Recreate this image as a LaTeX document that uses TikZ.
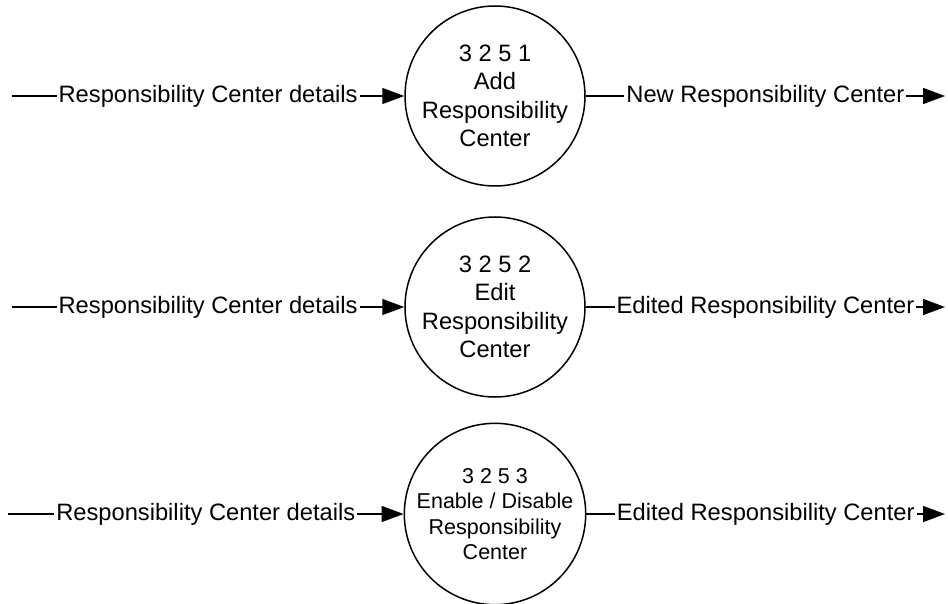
\documentclass[tikz,border=0pt]{standalone}
\usepackage{fontspec}
\setmainfont{Liberation Sans}
\usetikzlibrary{arrows.meta,positioning}

\begin{document}
\begin{tikzpicture}[x=1pt,y=-1pt,
    process/.style={circle, draw, line width=1.5pt, minimum size=180pt, inner sep=0pt, align=center, font=\fontsize{23.7}{28.5}\selectfont},
    flow/.style={line width=1.5pt, -{Triangle[length=22pt,width=16pt]}},
    lbl/.style={fill=white, inner sep=2pt, font=\fontsize{23.7}{28.5}\selectfont}]
    \useasboundingbox (0,0) rectangle (948,604);

    \node[process] (P1) at (495,96) {3 2 5 1\\Add\\Responsibility\\Center};
    \node[process] (P2) at (495,307) {3 2 5 2\\Edit\\Responsibility\\Center};
    \node[process, font=\fontsize{21.5}{25.5}\selectfont] (P3) at (495,514) {3 2 5 3\\Enable / Disable\\Responsibility\\Center};

    \coordinate (in1) at (12,96);
    \coordinate (in2) at (12,307);
    \coordinate (in3) at (8,514);
    \coordinate (out1) at (945,96);
    \coordinate (out2) at (945,307);
    \coordinate (out3) at (945,514);

    \foreach \p/\r in {1/New,2/Edited,3/Edited}{
        \draw[flow] (in\p) -- node[lbl] {Responsibility Center details} (P\p);
        \draw[flow] (P\p) -- node[lbl] {\r{} Responsibility Center} (out\p);
    }
\end{tikzpicture}
\end{document}
